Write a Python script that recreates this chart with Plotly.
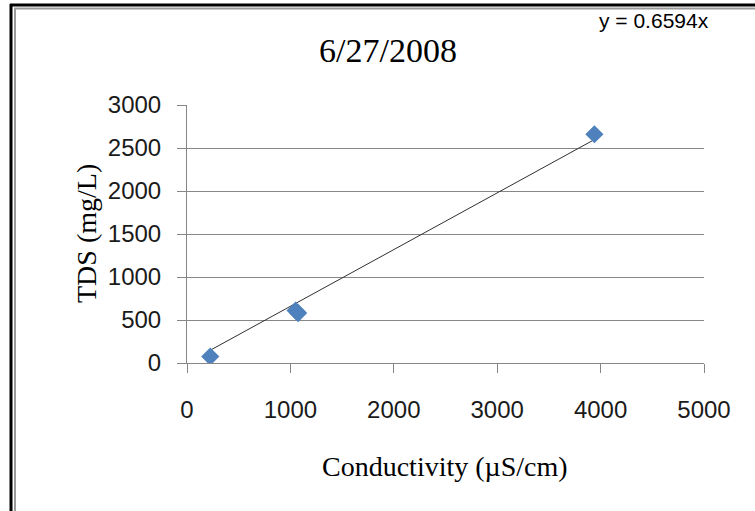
import numpy as np
import plotly.graph_objects as go

# Data
conductivity = [225, 1050, 1075, 3940]
tds = [75, 610, 580, 2660]
slope = 0.6594
title_text = "6/27/2008"
equation_text = "y = 0.6594x"
x_title = "Conductivity (µS/cm)"
y_title = "TDS (mg/L)"
x_ticks = [0, 1000, 2000, 3000, 4000, 5000]
y_ticks = [0, 500, 1000, 1500, 2000, 2500, 3000]

W, H = 755, 511
L, R, T, B = 187, 51, 105, 148
pw, ph = W - L - R, H - T - B

def px(x):
    return (x - L) / pw

def py(y):
    return 1 - (y - T) / ph

trend_x = np.array([min(conductivity), max(conductivity)])
trend_y = slope * trend_x

fig = go.Figure()
fig.add_trace(go.Scatter(x=trend_x, y=trend_y, mode="lines",
                         line=dict(color="#303030", width=1), showlegend=False,
                         hoverinfo="skip"))
fig.add_trace(go.Scatter(x=conductivity, y=tds, mode="markers",
                         marker=dict(symbol="diamond", size=14, color="#4F81BD",
                                     line=dict(width=0)),
                         showlegend=False))

grid = "#878787"
tickfont = dict(family="Liberation Sans", size=24, color="#1a1a1a")
fig.update_layout(
    width=W, height=H,
    margin=dict(l=L, r=R, t=T, b=B),
    paper_bgcolor="white", plot_bgcolor="white",
    font=dict(family="Liberation Sans", size=24, color="#000000"),
    xaxis=dict(range=[0, 5000], tickvals=x_ticks, showgrid=False,
               showline=True, linecolor=grid, linewidth=1,
               ticks="outside", ticklen=9, tickcolor=grid,
               ticklabelstandoff=16, tickfont=tickfont,
               zeroline=False, fixedrange=True),
    yaxis=dict(range=[0, 3000], tickvals=y_ticks, showgrid=True,
               gridcolor=grid, gridwidth=1,
               showline=True, linecolor=grid, linewidth=1,
               ticks="outside", ticklen=9, tickcolor=grid,
               ticklabelstandoff=11, tickfont=tickfont,
               zeroline=False, fixedrange=True),
    showlegend=False,
)

annotations = [
    dict(text=title_text, x=px(388), y=py(50), xref="paper", yref="paper",
         showarrow=False, xanchor="center", yanchor="middle",
         font=dict(family="Liberation Serif", size=34, color="#000")),
    dict(text=equation_text, x=px(654), y=py(20), xref="paper", yref="paper",
         showarrow=False, xanchor="center", yanchor="middle",
         font=dict(family="Liberation Sans", size=21, color="#000")),
    dict(text=x_title, x=px(445), y=py(466), xref="paper", yref="paper",
         showarrow=False, xanchor="center", yanchor="middle",
         font=dict(family="Liberation Serif", size=28, color="#000")),
    dict(text=y_title, x=px(86), y=py(234), xref="paper", yref="paper",
         showarrow=False, xanchor="center", yanchor="middle", textangle=-90,
         font=dict(family="Liberation Serif", size=28, color="#000")),
]
fig.update_layout(annotations=annotations)

shapes = [
    dict(type="line", xref="paper", yref="paper", x0=px(11), x1=px(11), y0=py(4), y1=py(520),
         line=dict(color="black", width=3)),
    dict(type="line", xref="paper", yref="paper", x0=px(10), x1=px(760), y0=py(5), y1=py(5),
         line=dict(color="black", width=3)),
    dict(type="line", xref="paper", yref="paper", x0=px(15), x1=px(15), y0=py(8.5), y1=py(520),
         line=dict(color="#9a9a9a", width=2)),
    dict(type="line", xref="paper", yref="paper", x0=px(14), x1=px(760), y0=py(8.5), y1=py(8.5),
         line=dict(color="#9a9a9a", width=2)),
]
fig.update_layout(shapes=shapes)

fig.write_html("out.html")
